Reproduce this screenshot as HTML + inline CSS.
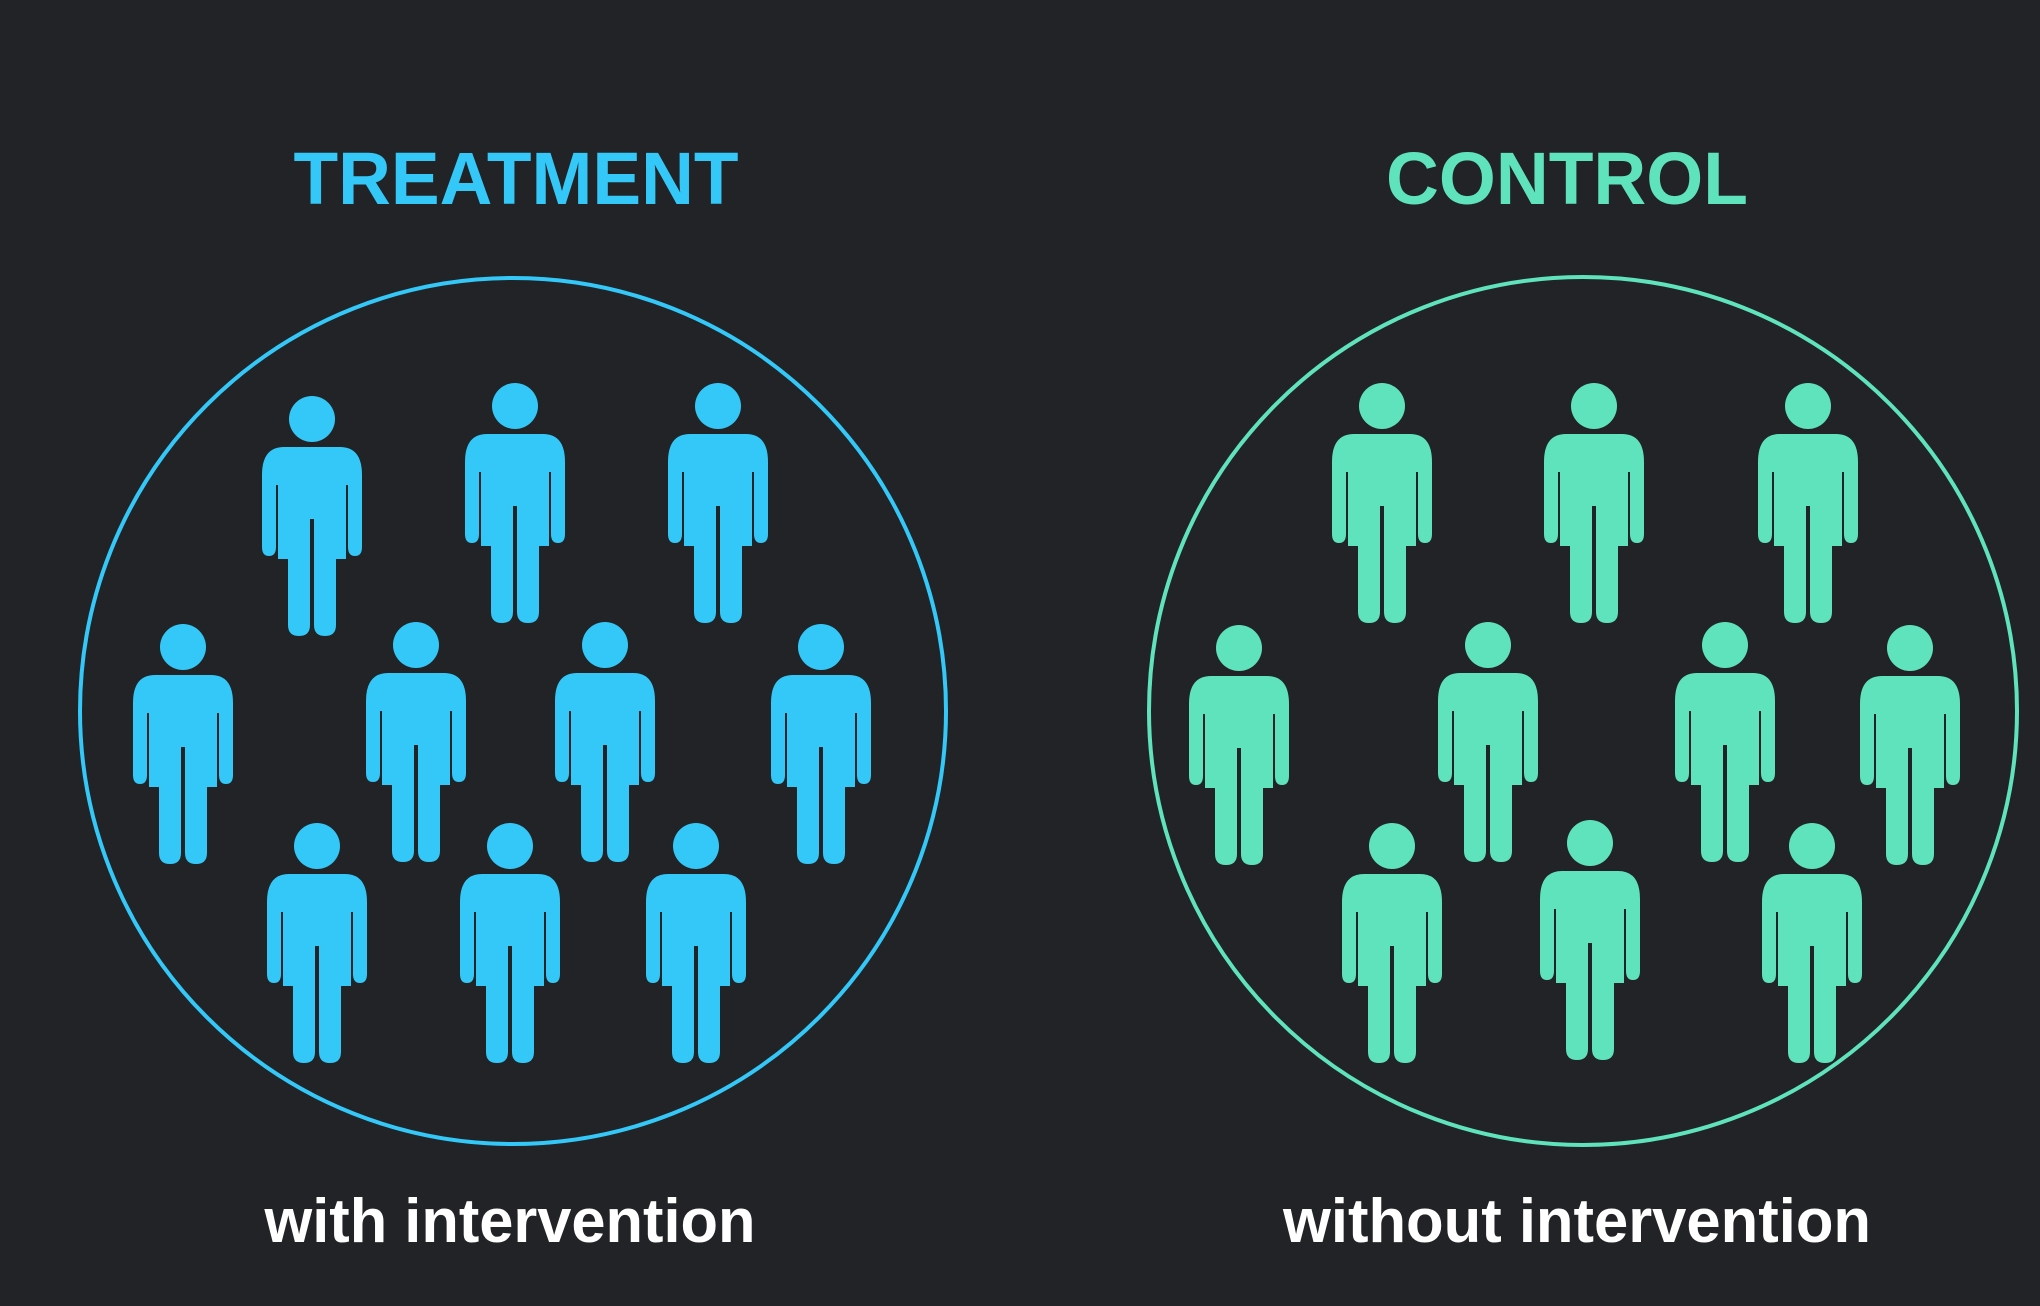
<!DOCTYPE html>
<html><head><meta charset="utf-8"><style>
html,body{margin:0;padding:0;background:#222326;}
svg{display:block}
text{font-family:"Liberation Sans","DejaVu Sans",sans-serif;font-weight:bold}
</style></head><body>
<svg width="2040" height="1306" viewBox="0 0 2040 1306" xmlns="http://www.w3.org/2000/svg">
<rect width="2040" height="1306" fill="#222326"/>
<defs>
<g id="p">
<circle cx="0" cy="0" r="23"/>
<path d="M-28,28 H28 Q50,28 50,56 V128 Q50,137 43,137 Q36,137 36,128 V66 L34,66 V140 H24 V206 Q24,217 13,217 Q2,217 2,206 V100 H-2 V206 Q-2,217 -13,217 Q-24,217 -24,206 V140 H-34 V66 L-36,66 V128 Q-36,137 -43,137 Q-50,137 -50,128 V56 Q-50,28 -28,28 Z"/>
</g>
</defs>
<text x="516" y="204" font-size="74" fill="#33c8f8" text-anchor="middle" textLength="445" lengthAdjust="spacingAndGlyphs">TREATMENT</text>
<text x="1567" y="204" font-size="74" fill="#5ee3bd" text-anchor="middle" textLength="362" lengthAdjust="spacingAndGlyphs">CONTROL</text>
<circle cx="513" cy="711" r="433" fill="none" stroke="#33c8f8" stroke-width="4"/>
<circle cx="1583" cy="711" r="434" fill="none" stroke="#5ee3bd" stroke-width="4"/>
<g fill="#33c8f8">
<use href="#p" x="312" y="419"/><use href="#p" x="515" y="406"/><use href="#p" x="718" y="406"/>
<use href="#p" x="183" y="647"/><use href="#p" x="416" y="645"/><use href="#p" x="605" y="645"/><use href="#p" x="821" y="647"/>
<use href="#p" x="317" y="846"/><use href="#p" x="510" y="846"/><use href="#p" x="696" y="846"/>
</g>
<g fill="#5ee3bd">
<use href="#p" x="1382" y="406"/><use href="#p" x="1594" y="406"/><use href="#p" x="1808" y="406"/>
<use href="#p" x="1239" y="648"/><use href="#p" x="1488" y="645"/><use href="#p" x="1725" y="645"/><use href="#p" x="1910" y="648"/>
<use href="#p" x="1392" y="846"/><use href="#p" x="1590" y="843"/><use href="#p" x="1812" y="846"/>
</g>
<text x="510" y="1242" font-size="62" fill="#ffffff" text-anchor="middle" textLength="491" lengthAdjust="spacingAndGlyphs">with intervention</text>
<text x="1577" y="1242" font-size="62" fill="#ffffff" text-anchor="middle" textLength="588" lengthAdjust="spacingAndGlyphs">without intervention</text>
</svg>
</body></html>
